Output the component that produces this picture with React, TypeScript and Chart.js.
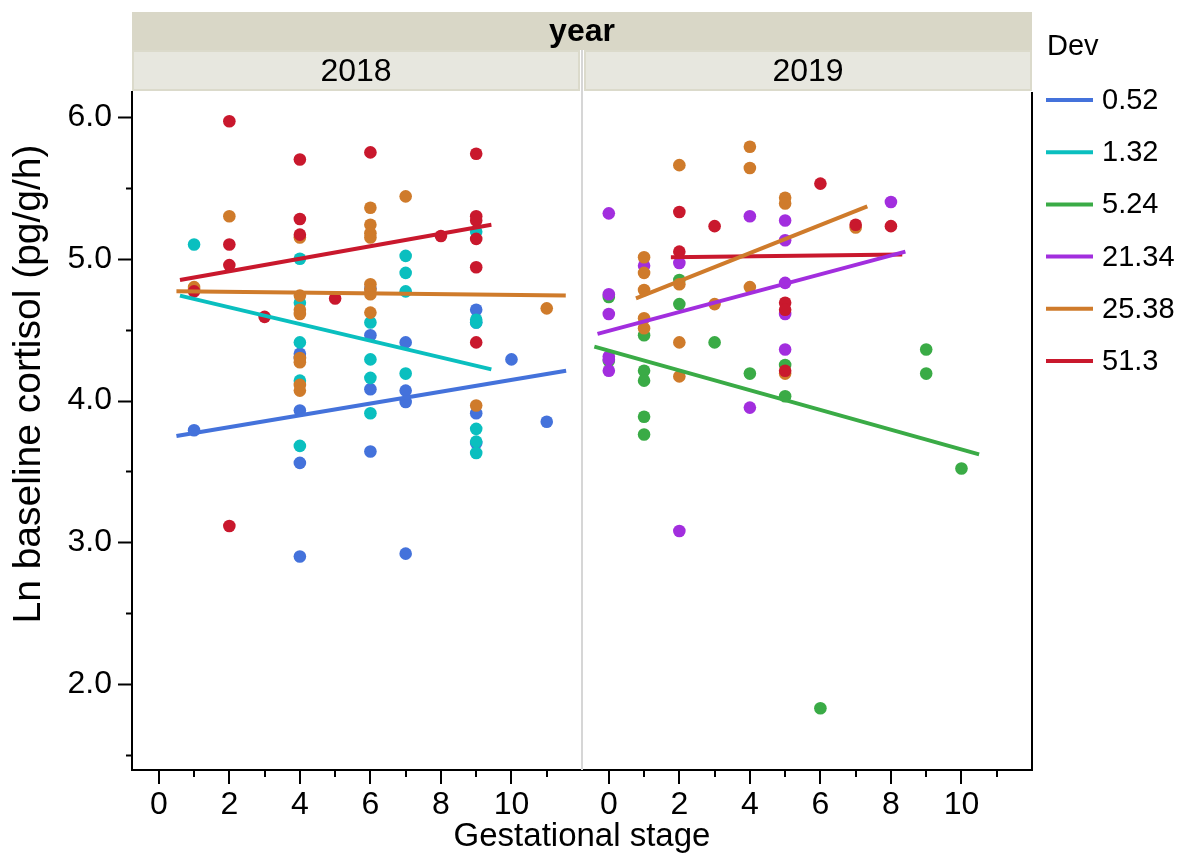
import React, { useEffect, useRef } from "react";
import { Chart, registerables } from "chart.js";

Chart.register(...registerables);

const FONT = '"Liberation Sans", Arial, Helvetica, sans-serif';

const devLabels = ["0.52", "1.32", "5.24", "21.34", "25.38", "51.3"];
const devColors = ["#4472db", "#0abfbf", "#3aab46", "#a22ede", "#cf7b2b", "#c9182d"];
const panelYears = ["2018", "2019"];
const xTickLabels = ["0", "2", "4", "6", "8", "10"];

// 2018 panel
const s18_052 = [1, 4, 4, 4, 4, 4, 6, 6, 6, 6, 7, 7, 7, 7, 9, 9, 9, 9, 10, 11];
const c18_052 = [3.79, 4.33, 4.30, 3.93, 3.56, 2.90, 4.79, 4.46, 4.08, 3.64, 4.41, 4.07, 3.99, 2.92, 4.64, 4.55, 3.91, 3.70, 4.29, 3.85];
const s18_132 = [1, 4, 4, 4, 4, 4, 6, 6, 6, 6, 7, 7, 7, 7, 9, 9, 9, 9, 9, 9];
const c18_132 = [5.10, 5.00, 4.69, 4.41, 4.14, 3.68, 4.55, 4.29, 4.16, 3.91, 5.02, 4.90, 4.77, 4.19, 5.19, 4.57, 4.55, 3.80, 3.71, 3.63];
const s18_2538 = [1, 1, 2, 4, 4, 4, 4, 4, 4, 4, 4, 6, 6, 6, 6, 6, 6, 6, 6, 7, 9, 11];
const c18_2538 = [4.80, 4.78, 5.30, 5.15, 4.74, 4.64, 4.61, 4.30, 4.27, 4.11, 4.07, 5.36, 5.24, 5.18, 5.15, 4.82, 4.78, 4.75, 4.62, 5.44, 3.965, 4.65];
const s18_513 = [1, 2, 2, 2, 2, 3, 4, 4, 4, 5, 6, 8, 9, 9, 9, 9, 9, 9];
const c18_513 = [4.77, 5.97, 5.10, 4.955, 3.115, 4.59, 5.70, 5.28, 5.17, 4.72, 5.75, 5.16, 5.74, 5.30, 5.27, 5.14, 4.94, 4.41];

// 2019 panel
const s19_524 = [0, 0, 1, 1, 1, 1, 1, 2, 2, 3, 4, 5, 5, 6, 9, 9, 10];
const c19_524 = [4.73, 4.28, 4.46, 4.21, 4.14, 3.885, 3.76, 4.85, 4.68, 4.41, 4.19, 4.25, 4.03, 1.83, 4.36, 4.19, 3.52];
const s19_2134 = [0, 0, 0, 0, 0, 0, 1, 2, 2, 4, 4, 5, 5, 5, 5, 5, 8];
const c19_2134 = [5.32, 4.75, 4.61, 4.31, 4.29, 4.21, 4.95, 4.97, 3.08, 5.30, 3.95, 5.27, 5.13, 4.83, 4.61, 4.36, 5.40];
const s19_2538 = [1, 1, 1, 1, 1, 2, 2, 2, 2, 3, 4, 4, 4, 5, 5, 5, 7];
const c19_2538 = [5.01, 4.90, 4.78, 4.58, 4.51, 5.66, 4.82, 4.41, 4.17, 4.68, 5.79, 5.64, 4.80, 5.43, 5.39, 4.19, 5.22];
const s19_513 = [2, 2, 3, 5, 5, 5, 6, 7, 8];
const c19_513 = [5.33, 5.05, 5.23, 4.69, 4.64, 4.21, 5.53, 5.24, 5.23];

// fitted lines: [x start, x end], [y start, y end]
const fit18_052x = [0.5, 11.55], fit18_052y = [3.75, 4.21];
const fit18_132x = [0.6, 9.43], fit18_132y = [4.74, 4.22];
const fit18_2538x = [0.5, 11.54], fit18_2538y = [4.77, 4.74];
const fit18_513x = [0.6, 9.43], fit18_513y = [4.85, 5.24];
const fit19_524x = [-0.41, 10.5], fit19_524y = [4.38, 3.62];
const fit19_2134x = [-0.32, 8.41], fit19_2134y = [4.47, 5.05];
const fit19_2538x = [0.77, 7.33], fit19_2538y = [4.72, 5.37];
const fit19_513x = [1.76, 8.32], fit19_513y = [5.01, 5.03];

const zip = (xs: number[], ys: number[]) => xs.map((x, i) => ({ x, y: ys[i] }));

export default function App() {
  const ref = useRef<HTMLCanvasElement | null>(null);

  useEffect(() => {
    if (!ref.current) return;

    const pts = (xs: number[], ys: number[], g: number, axis: string) => ({
      type: "scatter" as const,
      data: zip(xs, ys),
      xAxisID: axis,
      yAxisID: "y",
      showLine: false,
      pointRadius: 6.3,
      pointHoverRadius: 6.3,
      pointBorderWidth: 0,
      backgroundColor: devColors[g],
      borderColor: devColors[g],
      order: 10 - g,
    });
    const fit = (xs: number[], ys: number[], g: number, axis: string) => ({
      type: "scatter" as const,
      data: zip(xs, ys),
      xAxisID: axis,
      yAxisID: "y",
      showLine: true,
      pointRadius: 0,
      borderWidth: 4,
      borderColor: devColors[g],
      backgroundColor: devColors[g],
      order: 0,
    });

    const datasets: any[] = [
      fit(fit18_052x, fit18_052y, 0, "x18"),
      fit(fit18_132x, fit18_132y, 1, "x18"),
      fit(fit18_2538x, fit18_2538y, 4, "x18"),
      fit(fit18_513x, fit18_513y, 5, "x18"),
      fit(fit19_524x, fit19_524y, 2, "x19"),
      fit(fit19_2134x, fit19_2134y, 3, "x19"),
      fit(fit19_2538x, fit19_2538y, 4, "x19"),
      fit(fit19_513x, fit19_513y, 5, "x19"),
      pts(s18_052, c18_052, 0, "x18"),
      pts(s18_132, c18_132, 1, "x18"),
      pts(s18_2538, c18_2538, 4, "x18"),
      pts(s18_513, c18_513, 5, "x18"),
      pts(s19_524, c19_524, 2, "x19"),
      pts(s19_2134, c19_2134, 3, "x19"),
      pts(s19_2538, c19_2538, 4, "x19"),
      pts(s19_513, c19_513, 5, "x19"),
    ];

    const xAxis = (): any => ({
      type: "linear",
      position: "bottom",
      stack: "gs",
      stackWeight: 1,
      min: -0.76,
      max: 12,
      afterFit: (s: any) => {
        s.height = 87;
      },
      grid: { drawOnChartArea: false, drawTicks: false },
      border: { display: true, color: "#000", width: 2 },
      ticks: {
        stepSize: 1,
        includeBounds: false,
        autoSkip: false,
        maxRotation: 0,
        padding: 16,
        color: "#000",
        font: { family: FONT, size: 32 },
        callback: (v: any) => {
          const n = Number(v);
          if (Number.isInteger(n) && n >= 0 && n <= 10 && n % 2 === 0) {
            return xTickLabels[n / 2];
          }
          return "";
        },
      },
    });

    const decor = {
      id: "decor",
      afterDraw(chart: any) {
        const ctx = chart.ctx as CanvasRenderingContext2D;
        const ca = chart.chartArea;
        const x18 = chart.scales.x18;
        const x19 = chart.scales.x19;
        const y = chart.scales.y;
        ctx.save();
        // header bars
        ctx.fillStyle = "#d9d7c7";
        ctx.fillRect(ca.left, 12, ca.right - ca.left, 38);
        ctx.fillStyle = "#000";
        ctx.font = `bold 32px ${FONT}`;
        ctx.textAlign = "center";
        ctx.textBaseline = "middle";
        ctx.fillText("year", (ca.left + ca.right) / 2, 32);
        const bars = [
          [x18.left, x18.right - 2],
          [x19.left + 2, x19.right],
        ];
        bars.forEach((b, i) => {
          ctx.fillStyle = "#e7e7df";
          ctx.fillRect(b[0], 50, b[1] - b[0], 41);
          ctx.strokeStyle = "#dbdacb";
          ctx.lineWidth = 2;
          ctx.strokeRect(b[0] + 1, 51, b[1] - b[0] - 2, 39);
          ctx.fillStyle = "#000";
          ctx.font = `32px ${FONT}`;
          ctx.fillText(panelYears[i], (b[0] + b[1]) / 2, 72);
        });
        // divider
        ctx.strokeStyle = "#d6d6d6";
        ctx.lineWidth = 2;
        ctx.beginPath();
        ctx.moveTo(x18.right, 50);
        ctx.lineTo(x18.right, ca.bottom);
        ctx.stroke();
        // right border
        ctx.strokeStyle = "#000";
        ctx.lineWidth = 2;
        ctx.beginPath();
        ctx.moveTo(ca.right, ca.top);
        ctx.lineTo(ca.right, ca.bottom);
        ctx.stroke();
        // y tick marks
        ctx.lineWidth = 2;
        y.ticks.forEach((t: any) => {
          const v = t.value;
          if (Math.abs(v * 2 - Math.round(v * 2)) > 1e-6) return;
          const py = Math.round(y.getPixelForValue(v)) + 0.5;
          const major = Math.abs(v - Math.round(v)) < 1e-6;
          const len = major ? 14 : 6;
          ctx.beginPath();
          ctx.moveTo(ca.left - len, py);
          ctx.lineTo(ca.left, py);
          ctx.stroke();
        });
        // x tick marks
        [x18, x19].forEach((sc: any) => {
          for (let i = 0; i <= 11; i++) {
            const px = Math.round(sc.getPixelForValue(i));
            const len = i % 2 === 0 ? 14 : 7;
            ctx.beginPath();
            ctx.moveTo(px, ca.bottom);
            ctx.lineTo(px, ca.bottom + len);
            ctx.stroke();
          }
        });
        // axis titles
        ctx.fillStyle = "#000";
        ctx.font = `33px ${FONT}`;
        ctx.textAlign = "center";
        ctx.textBaseline = "middle";
        ctx.fillText("Gestational stage", (ca.left + ca.right) / 2, 837);
        ctx.save();
        ctx.translate(29, 384);
        ctx.rotate(-Math.PI / 2);
        ctx.font = `39px ${FONT}`;
        ctx.fillText("Ln baseline cortisol (pg/g/h)", 0, 0);
        ctx.restore();
        // legend
        ctx.textAlign = "left";
        ctx.font = `29px ${FONT}`;
        ctx.fillText("Dev", 1047, 47);
        devLabels.forEach((lab, i) => {
          const ly = 100 + i * 52.2;
          ctx.strokeStyle = devColors[i];
          ctx.lineWidth = 4;
          ctx.beginPath();
          ctx.moveTo(1046, ly);
          ctx.lineTo(1093, ly);
          ctx.stroke();
          ctx.fillStyle = "#000";
          ctx.fillText(lab, 1102, ly + 1);
        });
        ctx.restore();
      },
    };

    const chart = new Chart(ref.current, {
      type: "scatter",
      data: { datasets },
      options: {
        responsive: false,
        animation: false,
        devicePixelRatio: 1,
        layout: { padding: { top: 92, right: 152, left: 0, bottom: 0 } },
        plugins: { legend: { display: false }, tooltip: { enabled: false } },
        scales: {
          x18: xAxis(),
          x19: xAxis(),
          y: {
            type: "linear",
            position: "left",
            min: 1.394,
            max: 6.176,
            afterFit: (s: any) => {
              s.width = 132;
            },
            grid: { drawOnChartArea: false, drawTicks: false },
            border: { display: true, color: "#000", width: 2 },
            ticks: {
              stepSize: 0.5,
              includeBounds: false,
              autoSkip: false,
              padding: 20,
              color: "#000",
              font: { family: FONT, size: 32 },
              callback: (v: any) => {
                const n = Number(v);
                if (Math.abs(n - Math.round(n)) < 1e-6) return n.toFixed(1);
                return "";
              },
            },
          },
        },
      } as any,
      plugins: [decor],
    });
    return () => chart.destroy();
  }, []);

  return (
    <canvas
      ref={ref}
      width={1184}
      height={857}
      style={{ position: "absolute", left: 0, top: 0, width: 1184, height: 857 }}
    />
  );
}
